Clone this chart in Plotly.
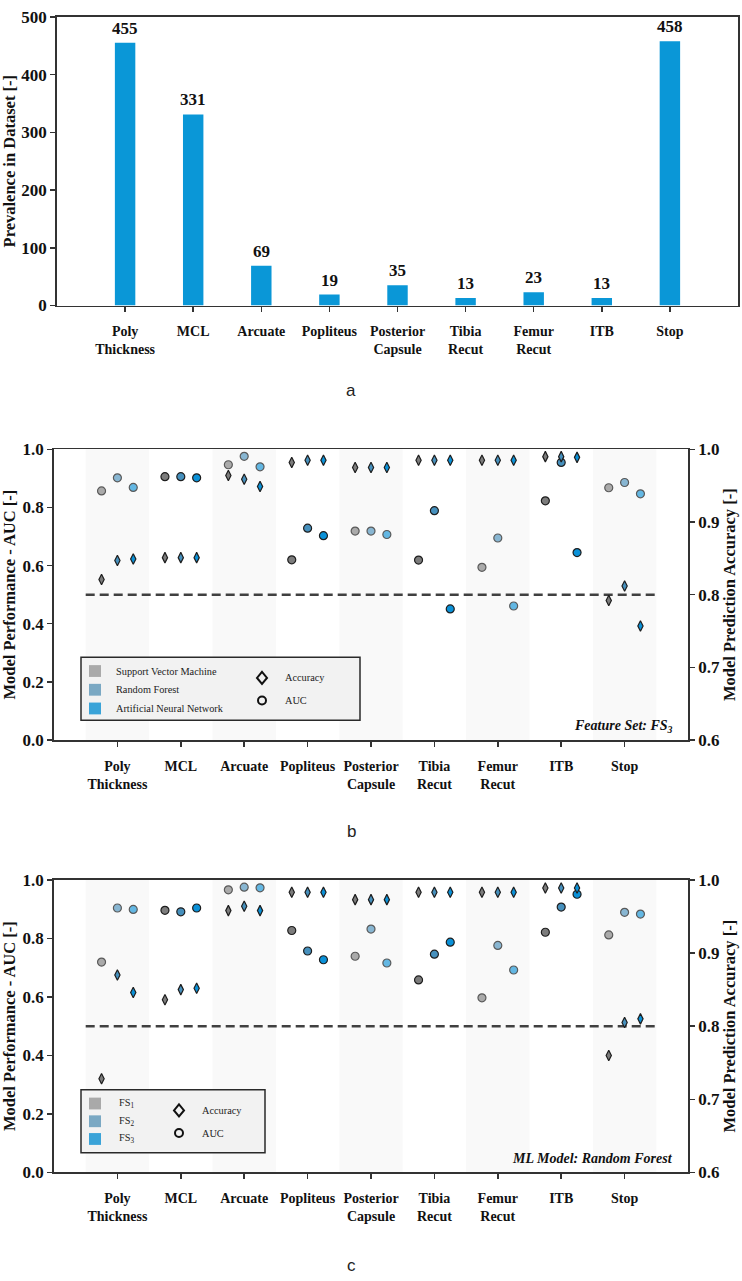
import plotly.graph_objects as go

# ---------------- data ----------------
categories = ["Poly<br>Thickness", "MCL", "Arcuate", "Popliteus", "Posterior<br>Capsule",
              "Tibia<br>Recut", "Femur<br>Recut", "ITB", "Stop"]
prevalence = [455, 331, 69, 19, 35, 13, 23, 13, 458]

# panel b: Feature Set FS3, three ML models
models_b = ["Support Vector Machine", "Random Forest", "Artificial Neural Network"]
auc_b_svm = [0.857, 0.906, 0.947, 0.620, 0.719, 0.619, 0.594, 0.823, 0.868]
auc_b_rf = [0.902, 0.906, 0.976, 0.729, 0.719, 0.789, 0.695, 0.955, 0.886]
auc_b_ann = [0.869, 0.902, 0.940, 0.703, 0.707, 0.451, 0.461, 0.645, 0.847]
acc_b_svm = [0.821, 0.851, 0.964, 0.982, 0.975, 0.985, 0.985, 0.990, 0.792]
acc_b_rf = [0.847, 0.851, 0.959, 0.985, 0.975, 0.985, 0.985, 0.990, 0.812]
acc_b_ann = [0.849, 0.851, 0.949, 0.985, 0.975, 0.985, 0.985, 0.989, 0.757]

# panel c: Random Forest, three feature sets
models_c = ["FS<sub>1</sub>", "FS<sub>2</sub>", "FS<sub>3</sub>"]
auc_c_fs1 = [0.719, 0.896, 0.966, 0.827, 0.739, 0.658, 0.597, 0.821, 0.812]
auc_c_fs2 = [0.904, 0.891, 0.975, 0.757, 0.832, 0.746, 0.776, 0.907, 0.889]
auc_c_fs3 = [0.899, 0.904, 0.973, 0.727, 0.716, 0.787, 0.692, 0.951, 0.883]
acc_c_fs1 = [0.728, 0.836, 0.958, 0.983, 0.973, 0.983, 0.983, 0.989, 0.760]
acc_c_fs2 = [0.870, 0.850, 0.964, 0.983, 0.973, 0.983, 0.983, 0.989, 0.805]
acc_c_fs3 = [0.846, 0.852, 0.958, 0.983, 0.973, 0.983, 0.983, 0.989, 0.810]

auc_threshold = 0.5

# ---------------- style ----------------
W, H = 742, 1281
SERIF = "Liberation Serif, Times New Roman, serif"
SANS = "Liberation Sans, Arial, sans-serif"
AXC = "#333333"
BAR_COLOR = "#0a97d7"
BASE_COLORS = ["#7c7c7c", "#4690bd", "#0a91d8"]
PATCH_COLORS = ["#a9a9a9", "#7aa8c3", "#3aa3d8"]
BAND_COLOR = "#f9f9f9"
offsets = [-0.25, 0.0, 0.25]


def px(x):
    return x / W


def py(y):
    return 1 - y / H


def blend(hexc, f, target=(245, 245, 245)):
    h = hexc.lstrip("#")
    r, g, b = int(h[0:2], 16), int(h[2:4], 16), int(h[4:6], 16)
    r = round(r * (1 - f) + target[0] * f)
    g = round(g * (1 - f) + target[1] * f)
    b = round(b * (1 - f) + target[2] * f)
    return f"#{r:02x}{g:02x}{b:02x}"


n = len(categories)
idx = list(range(n))
shaded = [i for i in idx if i % 2 == 0]

fig = go.Figure()

# ---------------- panel a ----------------
fig.add_trace(go.Bar(x=idx, y=prevalence, width=0.3, marker=dict(color=BAR_COLOR, line=dict(width=0)),
                     xaxis="x", yaxis="y", showlegend=False, hoverinfo="skip"))

annotations = []
for i, v in zip(idx, prevalence):
    annotations.append(dict(x=i, y=v, xref="x", yref="y", text=str(v), showarrow=False,
                            yanchor="bottom", yshift=3,
                            font=dict(family=SERIF, size=17, color="#111", weight="bold")))


# ---------------- panels b, c ----------------
def add_panel(xa, ya, ya2, aucs, accs):
    for k, auc in enumerate(aucs):
        xs = [i + offsets[k] for i in idx]
        fill = [blend(BASE_COLORS[k], 0.38) if i in shaded else BASE_COLORS[k] for i in idx]
        edge = ["#5a5a5a" if i in shaded else "#1e1e1e" for i in idx]
        fig.add_trace(go.Scatter(x=xs, y=auc, mode="markers", xaxis=xa, yaxis=ya, showlegend=False,
                                 hoverinfo="skip",
                                 marker=dict(symbol="circle", size=8, color=fill,
                                             line=dict(color=edge, width=1.2))))
    for k, acc in enumerate(accs):
        xs = [i + offsets[k] for i in idx]
        fig.add_trace(go.Scatter(x=xs, y=acc, mode="markers", xaxis=xa, yaxis=ya2, showlegend=False,
                                 hoverinfo="skip",
                                 marker=dict(symbol="diamond-tall", size=7.5, color=BASE_COLORS[k],
                                             line=dict(color="#1e1e1e", width=1.2))))


add_panel("x2", "y2", "y3", [auc_b_svm, auc_b_rf, auc_b_ann], [acc_b_svm, acc_b_rf, acc_b_ann])
add_panel("x3", "y4", "y5", [auc_c_fs1, auc_c_fs2, auc_c_fs3], [acc_c_fs1, acc_c_fs2, acc_c_fs3])

shapes = []
for xr, yr in [("x2", "y2"), ("x3", "y4")]:
    for i in shaded:
        shapes.append(dict(type="rect", xref=xr, yref=yr + " domain", x0=i - 0.5, x1=i + 0.5,
                           y0=0, y1=1, fillcolor=BAND_COLOR, line=dict(width=0), layer="below"))
    shapes.append(dict(type="line", xref=xr, yref=yr, x0=-0.5, x1=n - 0.5, y0=auc_threshold,
                       y1=auc_threshold, line=dict(color="#404040", width=2.5, dash="9px,5px"),
                       layer="below"))


# ---------------- custom legends ----------------
def legend_box(x0, y0, x1, y1, labels, rows_y, text_x, sym_x, sym_rows, sym_text_x):
    shapes.append(dict(type="rect", xref="paper", yref="paper", x0=px(x0), x1=px(x1),
                       y0=py(y1), y1=py(y0), fillcolor="#f2f2f2",
                       line=dict(color="#2a2a2a", width=1.5), layer="above"))
    for lab, ry, col in zip(labels, rows_y, PATCH_COLORS):
        shapes.append(dict(type="rect", xref="paper", yref="paper", x0=px(89), x1=px(101),
                           y0=py(ry + 6), y1=py(ry - 6), fillcolor=col, line=dict(width=0),
                           layer="above"))
        annotations.append(dict(x=px(text_x), y=py(ry), xref="paper", yref="paper", text=lab,
                                showarrow=False, xanchor="left", yanchor="middle",
                                font=dict(family=SERIF, size=10.3, color="#222")))
    # diamond glyph
    shapes.append(dict(type="path", xref="paper", yref="paper", xsizemode="pixel", ysizemode="pixel",
                       xanchor=px(sym_x), yanchor=py(sym_rows[0]),
                       path="M 0,6 L 5,0 L 0,-6 L -5,0 Z", fillcolor="rgba(0,0,0,0)",
                       line=dict(color="#111", width=2), layer="above"))
    shapes.append(dict(type="circle", xref="paper", yref="paper", xsizemode="pixel", ysizemode="pixel",
                       xanchor=px(sym_x), yanchor=py(sym_rows[1]), x0=-4, x1=4, y0=-4, y1=4,
                       fillcolor="rgba(0,0,0,0)", line=dict(color="#111", width=2), layer="above"))
    for lab, ry in zip(["Accuracy", "AUC"], sym_rows):
        annotations.append(dict(x=px(sym_text_x), y=py(ry), xref="paper", yref="paper", text=lab,
                                showarrow=False, xanchor="left", yanchor="middle",
                                font=dict(family=SERIF, size=10.3, color="#222")))


legend_box(81, 658, 360, 722, models_b, [672, 691, 710], 114, 262, [679, 702], 283)
legend_box(81, 1097, 265, 1161, models_c, [1111, 1129, 1147], 117, 179, [1118, 1141], 200)

annotations.append(dict(x=px(675), y=py(728), xref="paper", yref="paper",
                        text="Feature Set: FS<sub>3</sub>", showarrow=False, xanchor="right",
                        yanchor="middle", font=dict(family=SERIF, size=14, color="#111",
                                                    weight="bold", style="italic")))
annotations.append(dict(x=px(675), y=py(1167), xref="paper", yref="paper",
                        text="ML Model: Random Forest", showarrow=False, xanchor="right",
                        yanchor="middle", font=dict(family=SERIF, size=14, color="#111",
                                                    weight="bold", style="italic")))
for lab, yy in [("a", 387), ("b", 835), ("c", 1275)]:
    annotations.append(dict(x=px(351), y=py(yy), xref="paper", yref="paper", text=lab,
                            showarrow=False, xanchor="center", yanchor="middle",
                            font=dict(family=SANS, size=17, color="#222")))

# ---------------- axes ----------------
tickfont_y = dict(family=SERIF, size=17, color="#111", weight="bold")
tickfont_x = dict(family=SERIF, size=14, color="#111", weight="bold")
titlefont = dict(family=SERIF, size=16.5, color="#111", weight="bold")


def xaxis(dom, anchor):
    return dict(domain=dom, anchor=anchor, range=[-1, n], tickmode="array", tickvals=idx,
                ticktext=categories, ticks="outside", ticklen=5, tickwidth=1.5, tickcolor=AXC,
                showline=True, linecolor=AXC, linewidth=1.8, mirror=True, showgrid=False,
                zeroline=False, tickfont=tickfont_x, ticklabelstandoff=7)


def yaxis(dom, anchor, rng, dtick, fmt, title, standoff=6, **kw):
    d = dict(domain=dom, anchor=anchor, range=rng, dtick=dtick, tick0=rng[0], tickformat=fmt,
             ticks="outside", ticklen=5, tickwidth=1.5, tickcolor=AXC, showline=True, linecolor=AXC,
             linewidth=1.8, showgrid=False, zeroline=False, tickfont=tickfont_y,
             title=dict(text=title, font=titlefont, standoff=standoff))
    d.update(kw)
    return d


dom_a_x = [px(57), px(738)]
dom_a_y = [py(301), py(8)]
dom_b_x = [px(54), px(688)]
dom_b_y = [py(742), py(447)]
dom_c_y = [py(1181), py(884)]

fig.update_layout(
    width=W, height=H, margin=dict(l=0, r=0, t=0, b=0),
    paper_bgcolor="white", plot_bgcolor="white", showlegend=False, hovermode=False,
    xaxis=xaxis(dom_a_x, "y"),
    yaxis=yaxis(dom_a_y, "x", [0, 500], 100, "d", "Prevalence in Dataset [-]", mirror=True),
    xaxis2=xaxis(dom_b_x, "y2"),
    yaxis2=yaxis(dom_b_y, "x2", [0, 1], 0.2, ".1f", "Model Performance - AUC [-]"),
    yaxis3=yaxis(dom_b_y, "x2", [0.6, 1.0], 0.1, ".1f", "Model Prediction Accuracy [-]",
                 standoff=4, overlaying="y2", side="right"),
    xaxis3=xaxis(dom_b_x, "y4"),
    yaxis4=yaxis(dom_c_y, "x3", [0, 1], 0.2, ".1f", "Model Performance - AUC [-]"),
    yaxis5=yaxis(dom_c_y, "x3", [0.6, 1.0], 0.1, ".1f", "Model Prediction Accuracy [-]",
                 standoff=4, overlaying="y4", side="right"),
    shapes=shapes, annotations=annotations,
)

fig.write_html("out.html", config={"displayModeBar": False, "staticPlot": True},
               post_script="document.body.style.margin='0';document.body.style.overflow='hidden';")
